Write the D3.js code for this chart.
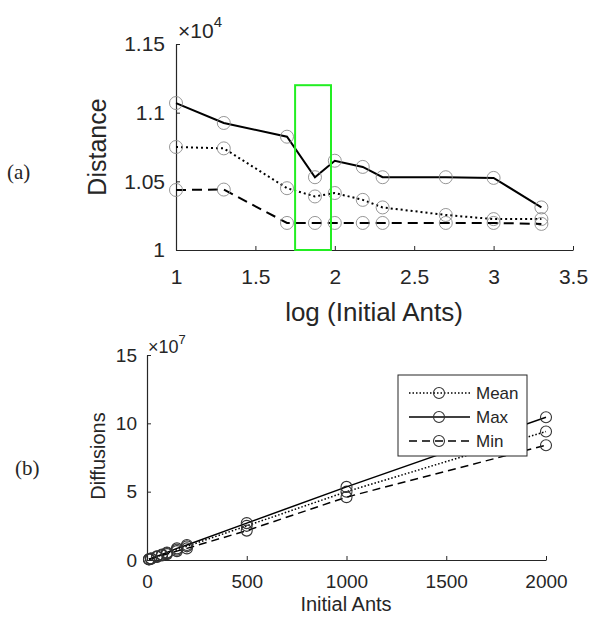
<!DOCTYPE html>
<html>
<head>
<meta charset="utf-8">
<script src="https://cdn.jsdelivr.net/npm/d3@7"></script>
<style>
  body { margin: 0; background: #fff; }
  text { font-family: "Liberation Sans", Arial, sans-serif; fill: #262626; }
  .axis path, .axis line { stroke: #262626; }
</style>
</head>
<body>
<div class="chart"></div>
<script>
// number of initial ants per run
const ants = [10, 20, 50, 75, 100, 150, 200, 500, 1000, 2000];

// (a) distance
const distMean = [10750, 10740, 10450, 10390, 10415, 10365, 10310, 10255, 10225, 10225];
const distMax  = [11070, 10925, 10825, 10530, 10650, 10605, 10530, 10530, 10525, 10310];
const distMin  = [10437, 10440, 10197, 10197, 10197, 10197, 10197, 10197, 10197, 10190];

// (b) diffusions, x 10^7
const diffMean = [0.05, 0.10, 0.25, 0.37, 0.50, 0.75, 1.00, 2.50, 5.00, 9.40];
const diffMax  = [0.055, 0.11, 0.27, 0.40, 0.55, 0.85, 1.10, 2.70, 5.35, 10.45];
const diffMin  = [0.045, 0.09, 0.22, 0.33, 0.43, 0.65, 0.85, 2.15, 4.60, 8.40];

const topXTicks = [1, 1.5, 2, 2.5, 3, 3.5];
const topYTicks = [10000, 10500, 11000, 11500];
const botXTicks = [0, 500, 1000, 1500, 2000];
const botYTicks = [0, 5, 10, 15];

const seriesNames = ['Mean', 'Max', 'Min'];
const dashes = {Mean: '2,3', Max: null, Min: '10,6'};
const dashesB = {Mean: '1.5,2', Max: null, Min: '8,5'};

const svg = d3.select('.chart')
    .append('svg')
    .attr('width', 592)
    .attr('height', 617);

// ---------- (a) ----------
const xA = d3.scaleLinear().domain([1, 3.5]).range([176, 573]);
const yA = d3.scaleLinear().domain([10000, 11500]).range([250, 44]);

svg.append('g')
    .attr('class', 'axis')
    .attr('transform', 'translate(0,' + 250 + ')')
    .call(d3.axisBottom(xA).tickValues(topXTicks).tickSize(-4).tickSizeOuter(0).tickPadding(19).tickFormat(d3.format('')))
    .selectAll('text').style('font-size', '21px');

svg.append('g')
    .attr('class', 'axis')
    .attr('transform', 'translate(' + 176 + ',0)')
    .call(d3.axisLeft(yA).tickValues(topYTicks).tickSize(-4).tickSizeOuter(0).tickPadding(11).tickFormat(d => d3.format('')(d / 1e4)))
    .selectAll('text').style('font-size', '21px');

svg.selectAll('.axis .domain').attr('stroke-width', 1.2);
svg.selectAll('.axis text').attr('fill', '#262626');

const expA = svg.append('text').attr('x', 178).attr('y', 38).style('font-size', '21px');
expA.append('tspan').text('\u00d710');
expA.append('tspan').attr('dy', -11).style('font-size', '15px').text('4');

svg.append('text')
    .attr('transform', 'translate(106,147) rotate(-90)')
    .attr('text-anchor', 'middle')
    .style('font-size', '25px')
    .text('Distance');

svg.append('text')
    .attr('x', 374).attr('y', 321)
    .attr('text-anchor', 'middle')
    .style('font-size', '26px')
    .text('log (Initial Ants)');

const topData = {Mean: distMean, Max: distMax, Min: distMin};
const lineA = d3.line().x((d, i) => xA(Math.log10(ants[i]))).y(d => yA(d));

seriesNames.forEach(name => {
    svg.append('path')
        .datum(topData[name])
        .attr('d', lineA)
        .attr('fill', 'none')
        .attr('stroke', '#000')
        .attr('stroke-width', 2)
        .attr('stroke-dasharray', dashes[name]);
    svg.selectAll('.ca-' + name)
        .data(topData[name])
        .enter()
        .append('circle')
        .attr('cx', (d, i) => xA(Math.log10(ants[i])))
        .attr('cy', d => yA(d))
        .attr('r', 6.5)
        .attr('fill', 'none')
        .attr('stroke', '#8a8a8a')
        .attr('stroke-width', 0.9);
});

// highlight box
svg.append('rect')
    .attr('x', xA(1.75))
    .attr('y', yA(11200))
    .attr('width', xA(1.976) - xA(1.75))
    .attr('height', yA(10000) - yA(11200))
    .attr('fill', 'none')
    .attr('stroke', '#22ee22')
    .attr('stroke-width', 2);

svg.append('text')
    .attr('x', 7).attr('y', 179)
    .style('font-family', '"Liberation Serif", "DejaVu Serif", serif')
    .style('font-size', '21px')
    .text('(a)');

// ---------- (b) ----------
const xB = d3.scaleLinear().domain([0, 2000]).range([147, 546]);
const yB = d3.scaleLinear().domain([0, 15]).range([560, 355]);

svg.append('g')
    .attr('class', 'axis axis-b')
    .attr('transform', 'translate(0,' + 560 + ')')
    .call(d3.axisBottom(xB).tickValues(botXTicks).tickSize(-4).tickSizeOuter(0).tickPadding(15).tickFormat(d3.format('d')))
    .selectAll('text').style('font-size', '19px');

svg.append('g')
    .attr('class', 'axis axis-b')
    .attr('transform', 'translate(' + 147 + ',0)')
    .call(d3.axisLeft(yB).tickValues(botYTicks).tickSize(-4).tickSizeOuter(0).tickPadding(10).tickFormat(d3.format('d')))
    .selectAll('text').style('font-size', '19px');

svg.selectAll('.axis-b .domain').attr('stroke-width', 1.2);
svg.selectAll('.axis text').attr('fill', '#262626');

const expB = svg.append('text').attr('x', 148).attr('y', 353).style('font-size', '18px');
expB.append('tspan').text('\u00d710');
expB.append('tspan').attr('dy', -9).style('font-size', '13px').text('7');

svg.append('text')
    .attr('transform', 'translate(105,456) rotate(-90)')
    .attr('text-anchor', 'middle')
    .style('font-size', '20px')
    .text('Diffusions');

svg.append('text')
    .attr('x', 346).attr('y', 611)
    .attr('text-anchor', 'middle')
    .style('font-size', '20px')
    .text('Initial Ants');

const botData = {Mean: diffMean, Max: diffMax, Min: diffMin};
const lineB = d3.line().x((d, i) => xB(ants[i])).y(d => yB(d));

seriesNames.forEach(name => {
    svg.append('path')
        .datum(botData[name])
        .attr('d', lineB)
        .attr('fill', 'none')
        .attr('stroke', '#000')
        .attr('stroke-width', 1.5)
        .attr('stroke-dasharray', dashesB[name]);
    svg.selectAll('.cb-' + name)
        .data(botData[name])
        .enter()
        .append('circle')
        .attr('cx', (d, i) => xB(ants[i]))
        .attr('cy', d => yB(d))
        .attr('r', 5.5)
        .attr('fill', 'none')
        .attr('stroke', '#333')
        .attr('stroke-width', 1.1);
});

// legend
const legend = svg.append('g').attr('transform', 'translate(398,375)');
legend.append('rect')
    .attr('width', 129).attr('height', 81)
    .attr('fill', '#fff')
    .attr('stroke', '#262626')
    .attr('stroke-width', 1);

seriesNames.forEach((name, i) => {
    const y = 18 + i * 24;
    legend.append('line')
        .attr('x1', 11).attr('x2', 72)
        .attr('y1', y).attr('y2', y)
        .attr('stroke', '#000')
        .attr('stroke-width', 1.5)
        .attr('stroke-dasharray', dashesB[name]);
    legend.append('circle')
        .attr('cx', 41).attr('cy', y)
        .attr('r', 5.5)
        .attr('fill', 'none')
        .attr('stroke', '#333')
        .attr('stroke-width', 1.1);
    legend.append('text')
        .attr('x', 78).attr('y', y + 6)
        .style('font-size', '17px')
        .text(name);
});

svg.append('text')
    .attr('x', 15).attr('y', 475)
    .style('font-family', '"Liberation Serif", "DejaVu Serif", serif')
    .style('font-size', '21px')
    .text('(b)');
</script>
</body>
</html>
